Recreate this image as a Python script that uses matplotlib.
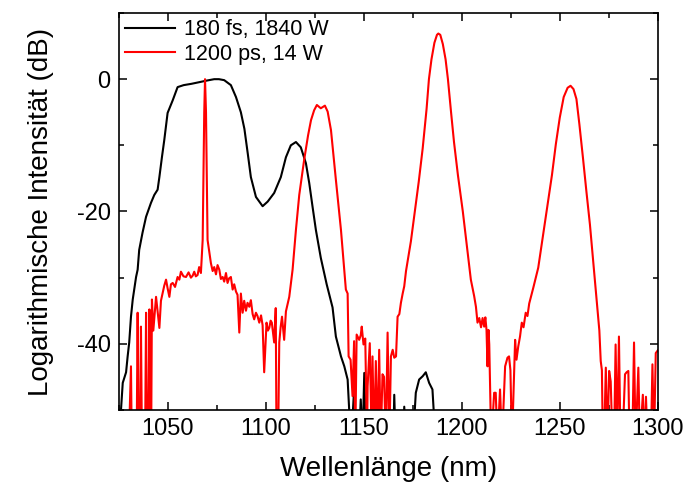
import matplotlib
matplotlib.use("Agg")
import matplotlib.pyplot as plt
from matplotlib.ticker import MultipleLocator

plt.rcParams['font.family'] = ['Liberation Sans', 'DejaVu Sans']
plt.rcParams['axes.unicode_minus'] = False

# 180 fs, 1840 W (schwarz)
fs_wl = [1026.0, 1026.9, 1028.6, 1029.4, 1030.2, 1031.1, 1032.0, 1033.7, 1034.5, 1035.3,
         1037.0, 1038.8, 1041.3, 1043.0, 1044.7, 1045.6, 1046.9, 1048.1, 1049.8, 1052.4,
         1054.9, 1058.0, 1062.0, 1066.8, 1070.0, 1073.6, 1076.0, 1078.7, 1082.1, 1084.7,
         1087.2, 1089.0, 1090.7, 1092.3, 1094.9, 1098.3, 1100.9, 1104.2, 1107.6, 1110.2,
         1112.7, 1115.3, 1117.8, 1120.4, 1122.1, 1123.8, 1125.5, 1128.0, 1131.0, 1134.0,
         1135.7, 1138.3, 1140.0, 1141.7, 1142.5, 1143.5, 1145.0, 1146.0, 1147.5, 1148.4,
         1149.3, 1150.2, 1151.2, 1155.0, 1165.0, 1165.5, 1166.2, 1170.0, 1170.6, 1171.5,
         1175.0, 1176.5, 1178.2, 1180.0, 1181.6, 1183.3, 1185.0, 1186.6]
fs_db = [-50.0, -45.9, -44.3, -41.9, -39.8, -35.9, -33.3, -29.9, -28.8, -25.8,
         -23.2, -20.8, -18.7, -17.5, -16.7, -14.8, -11.8, -9.2, -5.1, -3.2,
         -1.2, -0.9, -0.7, -0.4, -0.2, 0.0, 0.0, -0.15, -0.9, -2.7,
         -5.0, -7.5, -11.2, -14.8, -17.8, -19.2, -18.5, -17.2, -14.8, -11.8,
         -10.0, -9.5, -10.3, -12.7, -15.7, -19.3, -22.8, -27.0, -31.0, -34.5,
         -38.9, -41.9, -43.4, -45.4, -50.0, -55.0, -46.9, -55.0, -55.0, -48.4,
         -55.0, -44.4, -55.0, -55.0, -55.0, -47.7, -55.0, -55.0, -49.5, -55.0,
         -55.0, -47.4, -45.4, -44.9, -44.3, -45.9, -46.9, -55.0]

# 1200 ps, 14 W (rot)
ps_wl = [1030.0, 1031.1, 1031.5, 1034.0, 1034.5, 1035.0, 1035.7, 1036.2, 1036.7, 1038.3,
         1038.8, 1039.3, 1040.0, 1040.5, 1041.0, 1041.4, 1041.8, 1042.5, 1043.9, 1045.6,
         1046.4, 1047.3, 1048.1, 1049.0, 1049.8, 1050.7, 1051.5, 1052.4, 1053.6, 1054.9,
         1055.8, 1056.6, 1057.9, 1059.2, 1060.5, 1061.7, 1062.6, 1063.4, 1064.2, 1065.1,
         1065.9, 1066.8, 1067.7, 1068.5, 1068.9, 1069.4, 1070.2, 1071.9, 1072.8, 1073.6,
         1074.5, 1075.3, 1076.2, 1077.0, 1077.9, 1078.7, 1079.6, 1080.4, 1081.2, 1082.1,
         1083.0, 1083.8, 1084.7, 1085.5, 1086.4, 1087.2, 1088.1, 1088.9, 1089.8, 1090.6,
         1091.5, 1092.3, 1093.2, 1094.0, 1094.9, 1095.7, 1096.6, 1097.5, 1098.3, 1099.1,
         1100.3, 1101.0, 1101.7, 1102.4, 1103.0, 1104.2, 1105.0, 1105.4, 1106.2, 1106.8,
         1107.5, 1108.2, 1109.3, 1110.2, 1111.9, 1113.6, 1115.3, 1117.0, 1119.5, 1121.5,
         1123.0, 1124.6, 1126.0, 1128.0, 1130.1, 1131.5, 1133.2, 1135.7, 1138.3, 1140.0,
         1140.8, 1141.7, 1142.2, 1143.2, 1144.2, 1145.0, 1145.6, 1146.3, 1147.6, 1148.4,
         1148.9, 1149.8, 1150.7, 1151.6, 1151.9, 1153.0, 1154.0, 1154.4, 1155.2, 1156.1,
         1157.0, 1157.8, 1158.6, 1159.5, 1160.3, 1161.2, 1162.1, 1163.0, 1163.8, 1164.7,
         1165.5, 1166.4, 1167.2, 1168.1, 1168.9, 1169.8, 1170.6, 1171.5, 1174.0, 1176.0,
         1178.0, 1180.0, 1182.0, 1183.2, 1184.5, 1186.0, 1187.3, 1188.0, 1189.0, 1190.3,
         1191.7, 1192.9, 1194.5, 1196.0, 1198.0, 1200.5, 1202.5, 1204.6, 1206.3, 1207.2,
         1208.0, 1208.9, 1209.8, 1210.6, 1211.4, 1212.0, 1212.6, 1213.1, 1213.6, 1214.0,
         1215.0, 1216.5, 1217.3, 1218.2, 1219.5, 1220.5, 1222.1, 1223.3, 1224.1, 1224.8,
         1225.6, 1227.2, 1227.9, 1228.8, 1229.7, 1230.6, 1231.5, 1232.6, 1233.5, 1234.4,
         1236.5, 1239.0, 1241.5, 1243.8, 1246.0, 1248.0, 1250.0, 1252.0, 1254.0, 1255.5,
         1257.0, 1258.5, 1260.0, 1261.8, 1263.6, 1265.4, 1267.2, 1268.8, 1270.2, 1270.9,
         1271.5, 1272.0, 1272.6, 1273.5, 1274.3, 1275.2, 1276.0, 1276.9, 1277.7, 1278.5,
         1279.3, 1280.2, 1281.0, 1282.0, 1283.3, 1284.1, 1285.0, 1285.6, 1287.0, 1287.9,
         1288.7, 1290.1, 1290.9, 1292.4, 1293.2, 1294.0, 1294.8, 1296.5, 1297.3, 1298.1,
         1299.0, 1300.0]
ps_db = [-55.0, -43.4, -55.0, -55.0, -35.3, -55.0, -55.0, -37.4, -55.0, -55.0,
         -35.3, -55.0, -55.0, -34.8, -55.0, -55.0, -33.3, -38.0, -32.9, -37.6,
         -33.5, -32.3, -31.2, -30.3, -31.6, -32.9, -31.0, -30.8, -31.4, -29.9,
         -30.3, -29.1, -29.8, -29.9, -29.2, -30.0, -29.7, -29.1, -29.8, -29.6,
         -28.4, -29.3, -24.3, -5.0, 0.0, -5.0, -24.3, -27.8, -29.0, -28.4,
         -29.5, -28.1, -28.8, -30.2, -29.9, -30.6, -29.3, -30.8, -30.1, -29.9,
         -31.8, -31.0, -32.1, -32.6, -38.3, -32.4, -35.3, -33.5, -35.0, -33.8,
         -34.4, -33.4, -35.5, -36.3, -35.3, -35.8, -36.8, -35.7, -37.2, -44.3,
         -36.8, -38.0, -37.6, -36.5, -36.8, -39.8, -34.6, -55.0, -55.0, -39.8,
         -37.5, -35.9, -39.4, -35.1, -32.9, -28.8, -22.8, -17.5, -12.2, -8.5,
         -6.2, -4.7, -3.9, -4.4, -4.0, -4.9, -7.7, -15.2, -22.8, -28.8,
         -31.8, -32.4, -41.9, -42.4, -47.9, -39.6, -55.0, -38.6, -39.4, -38.7,
         -37.4, -40.1, -39.2, -55.0, -46.4, -39.9, -55.0, -41.9, -55.0, -42.6,
         -55.0, -40.9, -55.0, -44.6, -45.0, -55.0, -38.3, -55.0, -41.9, -40.9,
         -42.1, -41.9, -35.9, -35.5, -33.8, -32.4, -31.3, -29.0, -24.5, -20.0,
         -15.5, -10.5, -4.5, 0.0, 3.0, 5.5, 6.7, 6.9, 6.7, 5.3,
         3.0, 0.0, -5.0, -9.5, -14.5, -20.0, -25.0, -30.3, -32.8, -34.4,
         -36.8, -36.1, -37.5, -36.1, -37.4, -36.0, -37.9, -43.4, -37.9, -40.1,
         -55.0, -47.4, -47.4, -55.0, -46.9, -55.0, -43.4, -42.1, -41.9, -44.0,
         -55.0, -39.4, -42.4, -40.4, -38.9, -36.8, -37.5, -35.3, -35.8, -33.9,
         -31.5, -28.5, -23.5, -19.0, -14.5, -9.8, -5.8, -2.7, -1.3, -1.0,
         -1.5, -3.0, -6.8, -11.8, -17.0, -22.0, -28.0, -33.3, -38.0, -42.6,
         -44.0, -55.0, -55.0, -43.6, -55.0, -44.1, -45.7, -55.0, -55.0, -40.1,
         -55.0, -38.9, -55.0, -55.0, -44.6, -44.3, -44.1, -55.0, -55.0, -39.8,
         -55.0, -43.6, -55.0, -47.7, -55.0, -48.0, -55.0, -55.0, -43.1, -55.0,
         -41.4, -41.0]

fig = plt.figure(figsize=(6.88, 4.91), dpi=100)
ax = fig.add_axes([0.173, 0.165, 0.783, 0.8085])

ax.plot(fs_wl, fs_db, color='black', lw=1.5, label='180 fs, 1840 W')
ax.plot(ps_wl, ps_db, color='red', lw=1.5, label='1200 ps, 14 W')

ax.set_xlim(1025, 1300)
ax.set_ylim(-50, 10)
ax.xaxis.set_major_locator(MultipleLocator(50))
ax.xaxis.set_minor_locator(MultipleLocator(25))
ax.yaxis.set_major_locator(MultipleLocator(20))
ax.yaxis.set_minor_locator(MultipleLocator(10))
ax.tick_params(which='both', direction='in', top=True, right=True, width=1.1,
               labelsize=17, pad=6)
ax.tick_params(which='major', length=6)
ax.tick_params(which='minor', length=3.5)
for s in ax.spines.values():
    s.set_linewidth(1.2)

ax.set_xlabel('Wellenlänge (nm)', fontsize=20, labelpad=11)
ax.set_ylabel('Logarithmische Intensität (dB)', fontsize=20, labelpad=16)

ax.legend(loc='upper left', frameon=False, fontsize=15.5, handlelength=2.3,
          handletextpad=0.4, labelspacing=0.15, borderaxespad=0.1,
          borderpad=0.2)

fig.savefig('out.png', dpi=100)
